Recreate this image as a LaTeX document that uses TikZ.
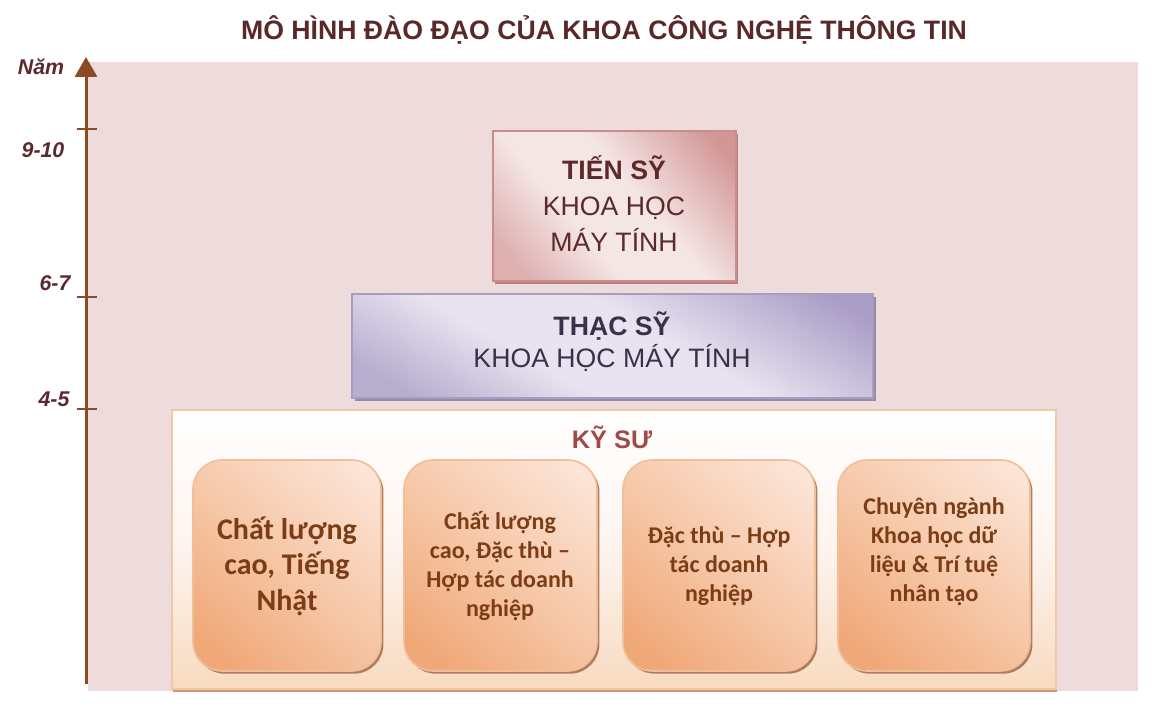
\documentclass[tikz,border=0pt]{standalone}
\usepackage{fontspec}
\setmainfont{Liberation Sans}
\newfontfamily\calib{Carlito}
\usetikzlibrary{arrows.meta,fit,shadows}
\definecolor{bgpink}{HTML}{EEDCDC}
\definecolor{titlec}{HTML}{5A2828}
\definecolor{axisc}{HTML}{8B4A22}
\definecolor{axlblc}{HTML}{5A2A30}
\definecolor{tsdark}{HTML}{D39696}
\definecolor{tslow}{HTML}{DEB0B0}
\definecolor{tslight}{HTML}{F5E6E6}
\definecolor{tsborder}{HTML}{C88E8E}
\definecolor{tsshadow}{HTML}{B87C7C}
\definecolor{tstext}{HTML}{5C2A2A}
\definecolor{thdark}{HTML}{A99CC6}
\definecolor{thlow}{HTML}{B7ADCF}
\definecolor{thlight}{HTML}{E8E3F0}
\definecolor{thborder}{HTML}{A89CC0}
\definecolor{thshadow}{HTML}{968AA4}
\definecolor{thtext}{HTML}{3A3048}
\definecolor{ksborder}{HTML}{F1C8A4}
\definecolor{ksbottom}{HTML}{F8DAC0}
\definecolor{ksmid}{HTML}{FDF4EE}
\definecolor{ksshadow}{HTML}{C8987A}
\definecolor{kstext}{HTML}{A24A4A}
\definecolor{orlight}{HTML}{FCE4D6}
\definecolor{ormid}{HTML}{F6C7A7}
\definecolor{ordark}{HTML}{F0A878}
\definecolor{orborder}{HTML}{F0BE98}
\definecolor{orshadow}{HTML}{A87250}
\definecolor{ortext}{HTML}{7B3D16}
\pgfdeclareverticalshading{tsshade}{100bp}{color(0bp)=(tslow); color(22bp)=(tslow); color(40bp)=(tslight); color(56bp)=(tslight); color(80bp)=(tsdark); color(100bp)=(tsdark)}
\pgfdeclareverticalshading{thshade}{100bp}{color(0bp)=(thlow); color(22bp)=(thlow); color(40bp)=(thlight); color(56bp)=(thlight); color(80bp)=(thdark); color(100bp)=(thdark)}
\pgfdeclareverticalshading{orshade}{100bp}{color(0bp)=(ordark); color(22bp)=(ordark); color(50bp)=(ormid); color(80bp)=(orlight); color(100bp)=(orlight)}
\tikzset{
  axisline/.style={draw=axisc,line width=2.25pt},
  tickline/.style={draw=axisc,line width=2pt},
  axlbl/.style={text=axlblc,font=\bfseries\itshape\fontsize{16}{19}\selectfont,inner sep=0},
  tsbox/.style={inner sep=0,draw=tsborder,line width=1.2pt,
    shading=tsshade,shading angle=-50,
    drop shadow={shadow xshift=1.5pt,shadow yshift=-2pt,fill=tsshadow,opacity=1}},
  thbox/.style={inner sep=0,draw=thborder,line width=1.2pt,
    shading=thshade,shading angle=-30,
    drop shadow={shadow xshift=2pt,shadow yshift=-2pt,fill=thshadow,opacity=1}},
  ksbox/.style={inner sep=0,draw=ksborder,line width=2.2pt,
    top color=white,bottom color=ksbottom,middle color=ksmid,
    drop shadow={shadow xshift=1pt,shadow yshift=-2.5pt,fill=ksshadow,opacity=1}},
  orbox/.style={inner sep=0,draw=orborder,line width=1.2pt,rounded corners=22pt,
    shading=orshade,shading angle=-40,
    drop shadow={shadow xshift=1.8pt,shadow yshift=-2pt,fill=orshadow,opacity=0.9}},
  hitext/.style={align=center,inner sep=0,font=\fontsize{20}{27}\selectfont},
  ortxt/.style={align=center,inner sep=0,text=ortext,font=\calib\bfseries\fontsize{18}{21.75}\selectfont},
}
\begin{document}
\begin{tikzpicture}[x=0.75pt,y=-0.75pt]
\useasboundingbox (0,0) rectangle (1166,720);
\fill[white] (0,0) rectangle (1166,720);
% title
\node[text=titlec,font=\bfseries\fontsize{20}{24}\selectfont,inner sep=0] (title) at (604,30)
  {MÔ HÌNH ĐÀO ĐẠO CỦA KHOA CÔNG NGHỆ THÔNG TIN};
% background
\node[fit={(88,62) (1138,691)},inner sep=0,fill=bgpink] (bg) {};
% axis
\coordinate (axbot) at (86,684);
\coordinate (axtop) at (86,57);
\draw[axisline,-{Triangle[width=16.5pt,length=15pt]}] (axbot) -- (axtop);
\coordinate (t1l) at (77,129); \coordinate (t1r) at (97,129);
\coordinate (t2l) at (77,297); \coordinate (t2r) at (97,297);
\coordinate (t3l) at (77,409); \coordinate (t3r) at (97,409);
\draw[tickline] (t1l) -- (t1r);
\draw[tickline] (t2l) -- (t2r);
\draw[tickline] (t3l) -- (t3r);
\node[axlbl] (nam) at (41,67) {Năm};
\node[axlbl] (l910) at (43,150) {9-10};
\node[axlbl] (l67) at (55,283) {6-7};
\node[axlbl] (l45) at (54,399) {4-5};
% Tien sy
\node[tsbox,fit={(493,131) (736,281)}] (ts) {};
\node[hitext,text=tstext] (tstxt) at (614,204) {\textbf{TIẾN SỸ}\\KHOA HỌC\\MÁY TÍNH};
% Thac sy
\node[thbox,fit={(352,294) (873,398)}] (th) {};
\node[hitext,text=thtext,font=\fontsize{20}{24}\selectfont] (thtxt) at (612,342) {\textbf{THẠC SỸ}\\KHOA HỌC MÁY TÍNH};
% Ky su
\node[ksbox,fit={(172,410) (1056,689)}] (ks) {};
\node[text=kstext,font=\bfseries\fontsize{19}{23}\selectfont,inner sep=0] (kstxt) at (612,437) {KỸ SƯ};
% sub boxes
\node[orbox,fit={(193,460) (381,671)}] (b1) {};
\node[orbox,fit={(404,460) (597,671)}] (b2) {};
\node[orbox,fit={(623,460) (815,671)}] (b3) {};
\node[orbox,fit={(838,460) (1030,671)}] (b4) {};
\node[ortxt,font=\calib\bfseries\fontsize{22.5}{26.6}\selectfont] (b1t) at (287,566) {Chất lượng\\cao, Tiếng\\Nhật};
\node[ortxt] (b2t) at (500,566) {Chất lượng\\cao, Đặc thù –\\Hợp tác doanh\\nghiệp};
\node[ortxt] (b3t) at (719,566) {Đặc thù – Hợp\\tác doanh\\nghiệp};
\node[ortxt] (b4t) at (934,552) {Chuyên ngành\\Khoa học dữ\\liệu \& Trí tuệ\\nhân tạo};
\end{tikzpicture}
\end{document}
